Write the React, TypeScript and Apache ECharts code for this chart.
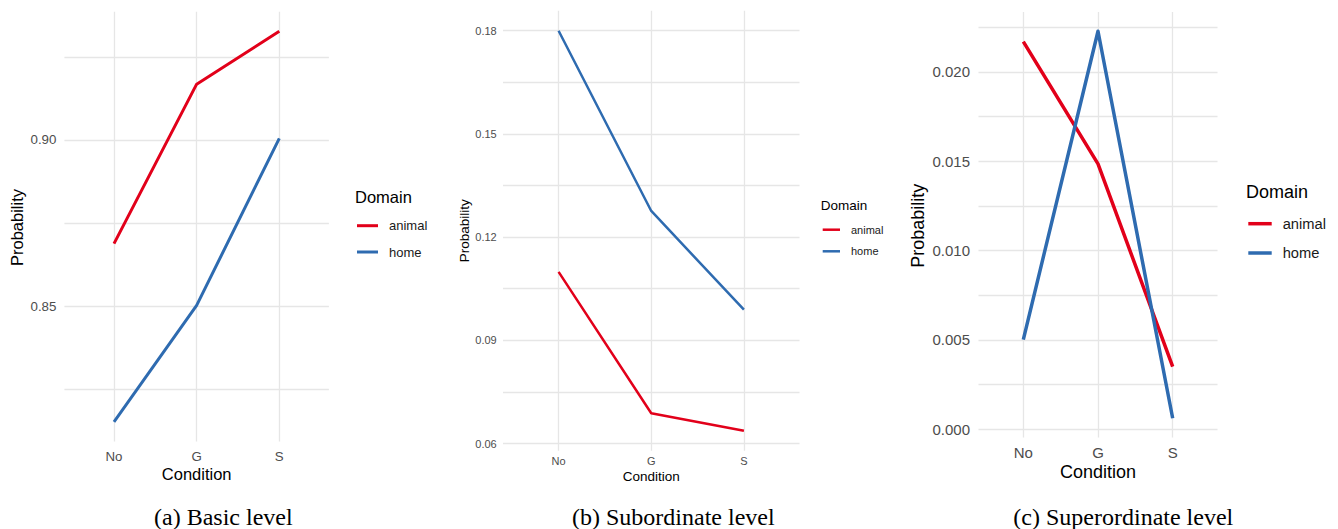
import React, { useEffect, useRef } from "react";
import * as echarts from "echarts";

// ---------- data ----------
const conditions = ["No", "G", "S"];
const domains = ["animal", "home"];

const basicAnimal = [0.8688, 0.9168, 0.9327];
const basicHome = [0.8151, 0.8502, 0.9005];

const subAnimal = [0.1099, 0.0688, 0.0637];
const subHome = [0.18, 0.1276, 0.0989];

const superAnimal = [0.0217, 0.01486, 0.00351];
const superHome = [0.00502, 0.02228, 0.00062];

const basicLabels = [0.85, 0.9];
const basicGrid = [0.825, 0.85, 0.875, 0.9, 0.925];
const subLabels = [0.06, 0.09, 0.12, 0.15, 0.18];
const subGrid = [0.06, 0.075, 0.09, 0.105, 0.12, 0.135, 0.15, 0.165, 0.18];
const superLabels = [0, 0.005, 0.01, 0.015, 0.02];
const superGrid = [0, 0.0025, 0.005, 0.0075, 0.01, 0.0125, 0.015, 0.0175, 0.02, 0.0225];

const captions = ["(a) Basic level", "(b) Subordinate level", "(c) Superordinate level"];

// ---------- styling ----------
const RED = "#E2001A";
const BLUE = "#2E6BB0";
const GRIDC = "#E6E6E6";
const SANS = "'Liberation Sans', Arial, sans-serif";
const SERIF = "'Liberation Serif', 'Times New Roman', serif";

const panels = [
  {
    animal: basicAnimal, home: basicHome, labels: basicLabels, grid: basicGrid, dec: 2,
    left: 64.4, width: 264.5, top: 11.8, height: 429.7,
    tickFont: 13.3, yMargin: 8, xMargin: 8, lw: 3,
    titleFont: 16.5, condY: 474, probX: 16.7, probY: 227.5,
    legLeft: 357, legTop: 217.7, legW: 21, legH: 3, legFont: 13, legLH: 16, legGap: 10.3,
    domX: 355, domY: 196.5, capX: 223.3,
  },
  {
    animal: subAnimal, home: subHome, labels: subLabels, grid: subGrid, dec: 2,
    left: 503, width: 296.5, top: 10.7, height: 440.1,
    tickFont: 11, yMargin: 6.3, xMargin: 4.7, lw: 2.5,
    titleFont: 13.5, condY: 476.7, probX: 464, probY: 230.7,
    legLeft: 822.7, legTop: 222.7, legW: 17.3, legH: 2.5, legFont: 11, legLH: 14, legGap: 7.6,
    domX: 820.7, domY: 205, capX: 673.3,
  },
  {
    animal: superAnimal, home: superHome, labels: superLabels, grid: superGrid, dec: 3,
    left: 978.5, width: 239, top: 11.9, height: 425.7,
    tickFont: 15, yMargin: 8.5, xMargin: 6.9, lw: 3.5,
    titleFont: 18, condY: 471.6, probX: 918.3, probY: 225.7,
    legLeft: 1248.3, legTop: 214.7, legW: 23.4, legH: 3.5, legFont: 14.7, legLH: 18, legGap: 11.3,
    domX: 1246, domY: 192.3, capX: 1123.3,
  },
];

function buildOption() {
  const grid: any[] = [];
  const xAxis: any[] = [];
  const yAxis: any[] = [];
  const series: any[] = [];
  const legend: any[] = [];
  const graphic: any[] = [];

  panels.forEach((p, i) => {
    const all = [...p.animal, ...p.home];
    const dmin = Math.min(...all);
    const dmax = Math.max(...all);
    const pad = (dmax - dmin) * 0.05;

    grid.push({ left: p.left, top: p.top, width: p.width, height: p.height, containLabel: false });

    xAxis.push({
      type: "value",
      gridIndex: i,
      min: -0.6,
      max: conditions.length - 1 + 0.6,
      axisLine: { show: false },
      axisTick: { show: false, customValues: conditions.map((_, k) => k) },
      axisLabel: {
        customValues: conditions.map((_, k) => k),
        formatter: (v: number) => conditions[Math.round(v)] ?? "",
        color: "#4D4D4D",
        fontSize: p.tickFont,
        fontFamily: SANS,
        margin: p.xMargin,
      },
      splitLine: { show: true, lineStyle: { color: GRIDC, width: 1.3 } },
    });

    yAxis.push({
      type: "value",
      gridIndex: i,
      min: dmin - pad,
      max: dmax + pad,
      axisLine: { show: false },
      axisTick: { show: false, customValues: p.grid },
      axisLabel: {
        customValues: p.labels,
        formatter: (v: number) => v.toFixed(p.dec),
        color: "#4D4D4D",
        fontSize: p.tickFont,
        fontFamily: SANS,
        margin: p.yMargin,
      },
      splitLine: { show: true, lineStyle: { color: GRIDC, width: 1.3 } },
    });

    const mk = (name: string, vals: number[], color: string) => ({
      type: "line",
      name,
      xAxisIndex: i,
      yAxisIndex: i,
      data: vals.map((v, k) => [k, v]),
      showSymbol: false,
      symbol: "none",
      itemStyle: { color },
      lineStyle: { color, width: p.lw, cap: "butt", join: "round" },
      z: name === "home" ? 3 : 2,
    });
    series.push(mk("animal", p.animal, RED));
    series.push(mk("home", p.home, BLUE));

    legend.push({
      data: domains,
      orient: "vertical",
      left: p.legLeft,
      top: p.legTop,
      padding: 0,
      icon: "rect",
      itemWidth: p.legW,
      itemHeight: p.legH,
      itemGap: p.legGap,
      selectedMode: false,
      textStyle: {
        fontSize: p.legFont,
        fontFamily: SANS,
        color: "#1a1a1a",
        lineHeight: p.legLH,
        padding: [0, 0, 0, 6],
      },
    });

    graphic.push(
      {
        type: "text",
        x: p.domX,
        y: p.domY,
        style: { text: "Domain", fontSize: p.titleFont, fontFamily: SANS, fill: "#000", align: "left", verticalAlign: "middle" },
      },
      {
        type: "text",
        x: p.left + p.width / 2,
        y: p.condY,
        style: { text: "Condition", fontSize: p.titleFont, fontFamily: SANS, fill: "#000", align: "center", verticalAlign: "middle" },
      },
      {
        type: "text",
        x: p.probX,
        y: p.probY,
        rotation: Math.PI / 2,
        style: { text: "Probability", fontSize: p.titleFont, fontFamily: SANS, fill: "#000", align: "center", verticalAlign: "middle" },
      },
      {
        type: "text",
        x: p.capX,
        y: 516.7,
        style: { text: captions[i], fontSize: 24, fontFamily: SERIF, fill: "#000", align: "center", verticalAlign: "middle" },
      }
    );
  });

  return {
    animation: false,
    backgroundColor: "#ffffff",
    grid,
    xAxis,
    yAxis,
    series,
    legend,
    graphic,
  };
}

export default function App() {
  const ref = useRef<HTMLDivElement>(null);
  useEffect(() => {
    if (!ref.current) return;
    const chart = echarts.init(ref.current, undefined, { renderer: "svg" });
    chart.setOption(buildOption() as any);
    return () => chart.dispose();
  }, []);
  return (
    <div
      ref={ref}
      style={{ position: "fixed", left: 0, top: 0, width: 1338, height: 529, background: "#fff" }}
    />
  );
}
